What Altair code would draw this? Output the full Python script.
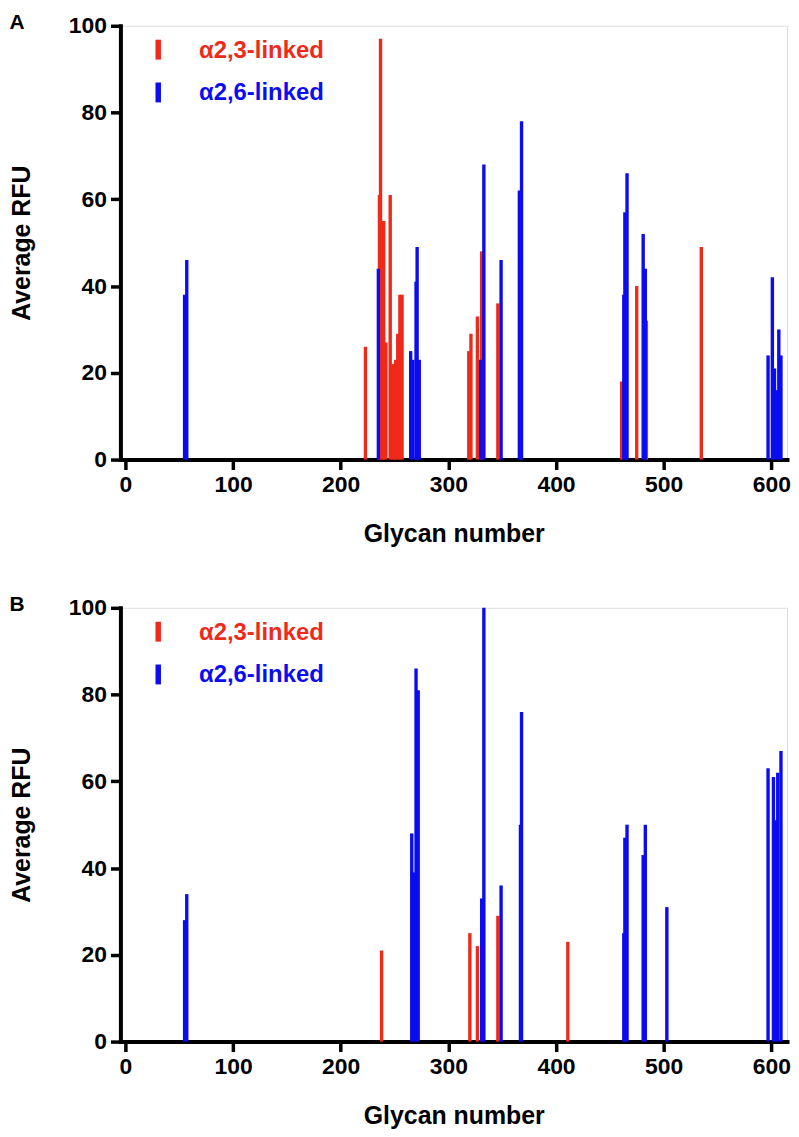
import altair as alt
import pandas as pd

# ---------------- data ----------------
SERIES = ["α2,3-linked", "α2,6-linked"]
X_TICKS = [0, 100, 200, 300, 400, 500, 600]
Y_TICKS = [0, 20, 40, 60, 80, 100]

# Panel A
A_RED_GLYCAN = [223, 236, 237, 239, 240, 242, 246, 248, 250, 251, 253, 255, 257,
                319, 321, 327, 331, 346, 461, 475, 484, 535]
A_RED_RFU = [26, 61, 97, 55, 55, 27, 61, 22, 22, 23, 29, 38, 38,
             25, 29, 33, 48, 36, 18, 40, 32, 49]
A_BLUE_GLYCAN = [55, 57, 235, 265, 267, 270, 271, 273, 330, 333, 349, 366, 368,
                 463, 464, 466, 481, 483, 597, 601, 603, 605, 607, 609]
A_BLUE_RFU = [38, 46, 44, 25, 23, 41, 49, 23, 23, 68, 46, 62, 78,
              38, 57, 66, 52, 44, 24, 42, 21, 16, 30, 24]

# Panel B
B_RED_GLYCAN = [238, 320, 327, 346, 411]
B_RED_RFU = [21, 25, 22, 29, 23]
B_BLUE_GLYCAN = [55, 57, 266, 268, 270, 272, 331, 333, 349, 367, 368,
                 463, 464, 466, 481, 483, 503, 597, 602, 604, 606, 609]
B_BLUE_RFU = [28, 34, 48, 39, 86, 81, 33, 100, 36, 50, 76,
              25, 47, 50, 43, 50, 31, 63, 61, 51, 62, 67]

# ---------------- style ----------------
FONT = "Liberation Sans"
RED = "#EE2A1A"
BLUE = "#0C0CF0"
W, H = 670, 436


def panel(label, rx, ry, bx, by):
    df = pd.DataFrame({
        "glycan": rx + bx,
        "rfu": ry + by,
        "linkage": [SERIES[0]] * len(rx) + [SERIES[1]] * len(bx),
    })
    x = alt.X("glycan:Q",
              scale=alt.Scale(domain=[0, 610], nice=False, zero=True),
              axis=alt.Axis(values=X_TICKS, title="Glycan number", grid=False,
                            domainColor="black", domainWidth=4, domainCap="square",
                            tickColor="black", tickWidth=3.5, tickSize=10,
                            labelFont=FONT, labelFontSize=23, labelFontWeight="bold",
                            labelColor="black", labelPadding=4, labelFlush=False,
                            titleFont=FONT, titleFontSize=25, titleFontWeight="bold",
                            titleColor="black", titleY=74, titleBaseline="middle"))
    y = alt.Y("rfu:Q",
              scale=alt.Scale(domain=[0, 100], nice=False),
              axis=alt.Axis(values=Y_TICKS, title="Average RFU", grid=False,
                            domainColor="black", domainWidth=4, domainCap="square",
                            tickColor="black", tickWidth=3.5, tickSize=10,
                            labelFont=FONT, labelFontSize=23, labelFontWeight="bold",
                            labelColor="black", labelPadding=4,
                            titleFont=FONT, titleFontSize=25, titleFontWeight="bold",
                            titleColor="black", titleX=-99, titleY=H / 2,
                            titleAngle=270, titleBaseline="middle", titleAlign="center"))
    bars = alt.Chart(df).mark_bar(size=3.4).encode(
        x=x, y=y,
        color=alt.Color("linkage:N", scale=alt.Scale(domain=SERIES, range=[RED, BLUE]),
                        legend=None),
    )
    layers = [bars]
    for i, (name, col) in enumerate(zip(SERIES, [RED, BLUE])):
        ldf = pd.DataFrame({"name": [name]})
        yc = 25 + i * 43
        sym = alt.Chart(ldf).mark_rule(color=col, strokeWidth=5.5).encode(
            x=alt.value(38), y=alt.value(yc - 11), y2=alt.value(yc + 9))
        txt = alt.Chart(ldf).mark_text(
            font=FONT, fontSize=24, fontWeight="bold", color=col,
            align="left", baseline="middle").encode(
            text="name:N", x=alt.value(79), y=alt.value(yc))
        layers += [sym, txt]
    lab = alt.Chart(pd.DataFrame({"p": [label]})).mark_text(
        font=FONT, fontSize=21, fontWeight="bold", color="black",
        align="center", baseline="middle").encode(
        text="p:N", x=alt.value(-104), y=alt.value(-3))
    layers.append(lab)
    return alt.layer(*layers).properties(width=W, height=H)


chart = alt.vconcat(
    panel("A", A_RED_GLYCAN, A_RED_RFU, A_BLUE_GLYCAN, A_BLUE_RFU),
    panel("B", B_RED_GLYCAN, B_RED_RFU, B_BLUE_GLYCAN, B_BLUE_RFU),
    spacing=46,
).properties(padding=0).configure_view(stroke=None).configure(background="white")

chart.save("out.html", embed_options={"renderer": "svg", "actions": False})
